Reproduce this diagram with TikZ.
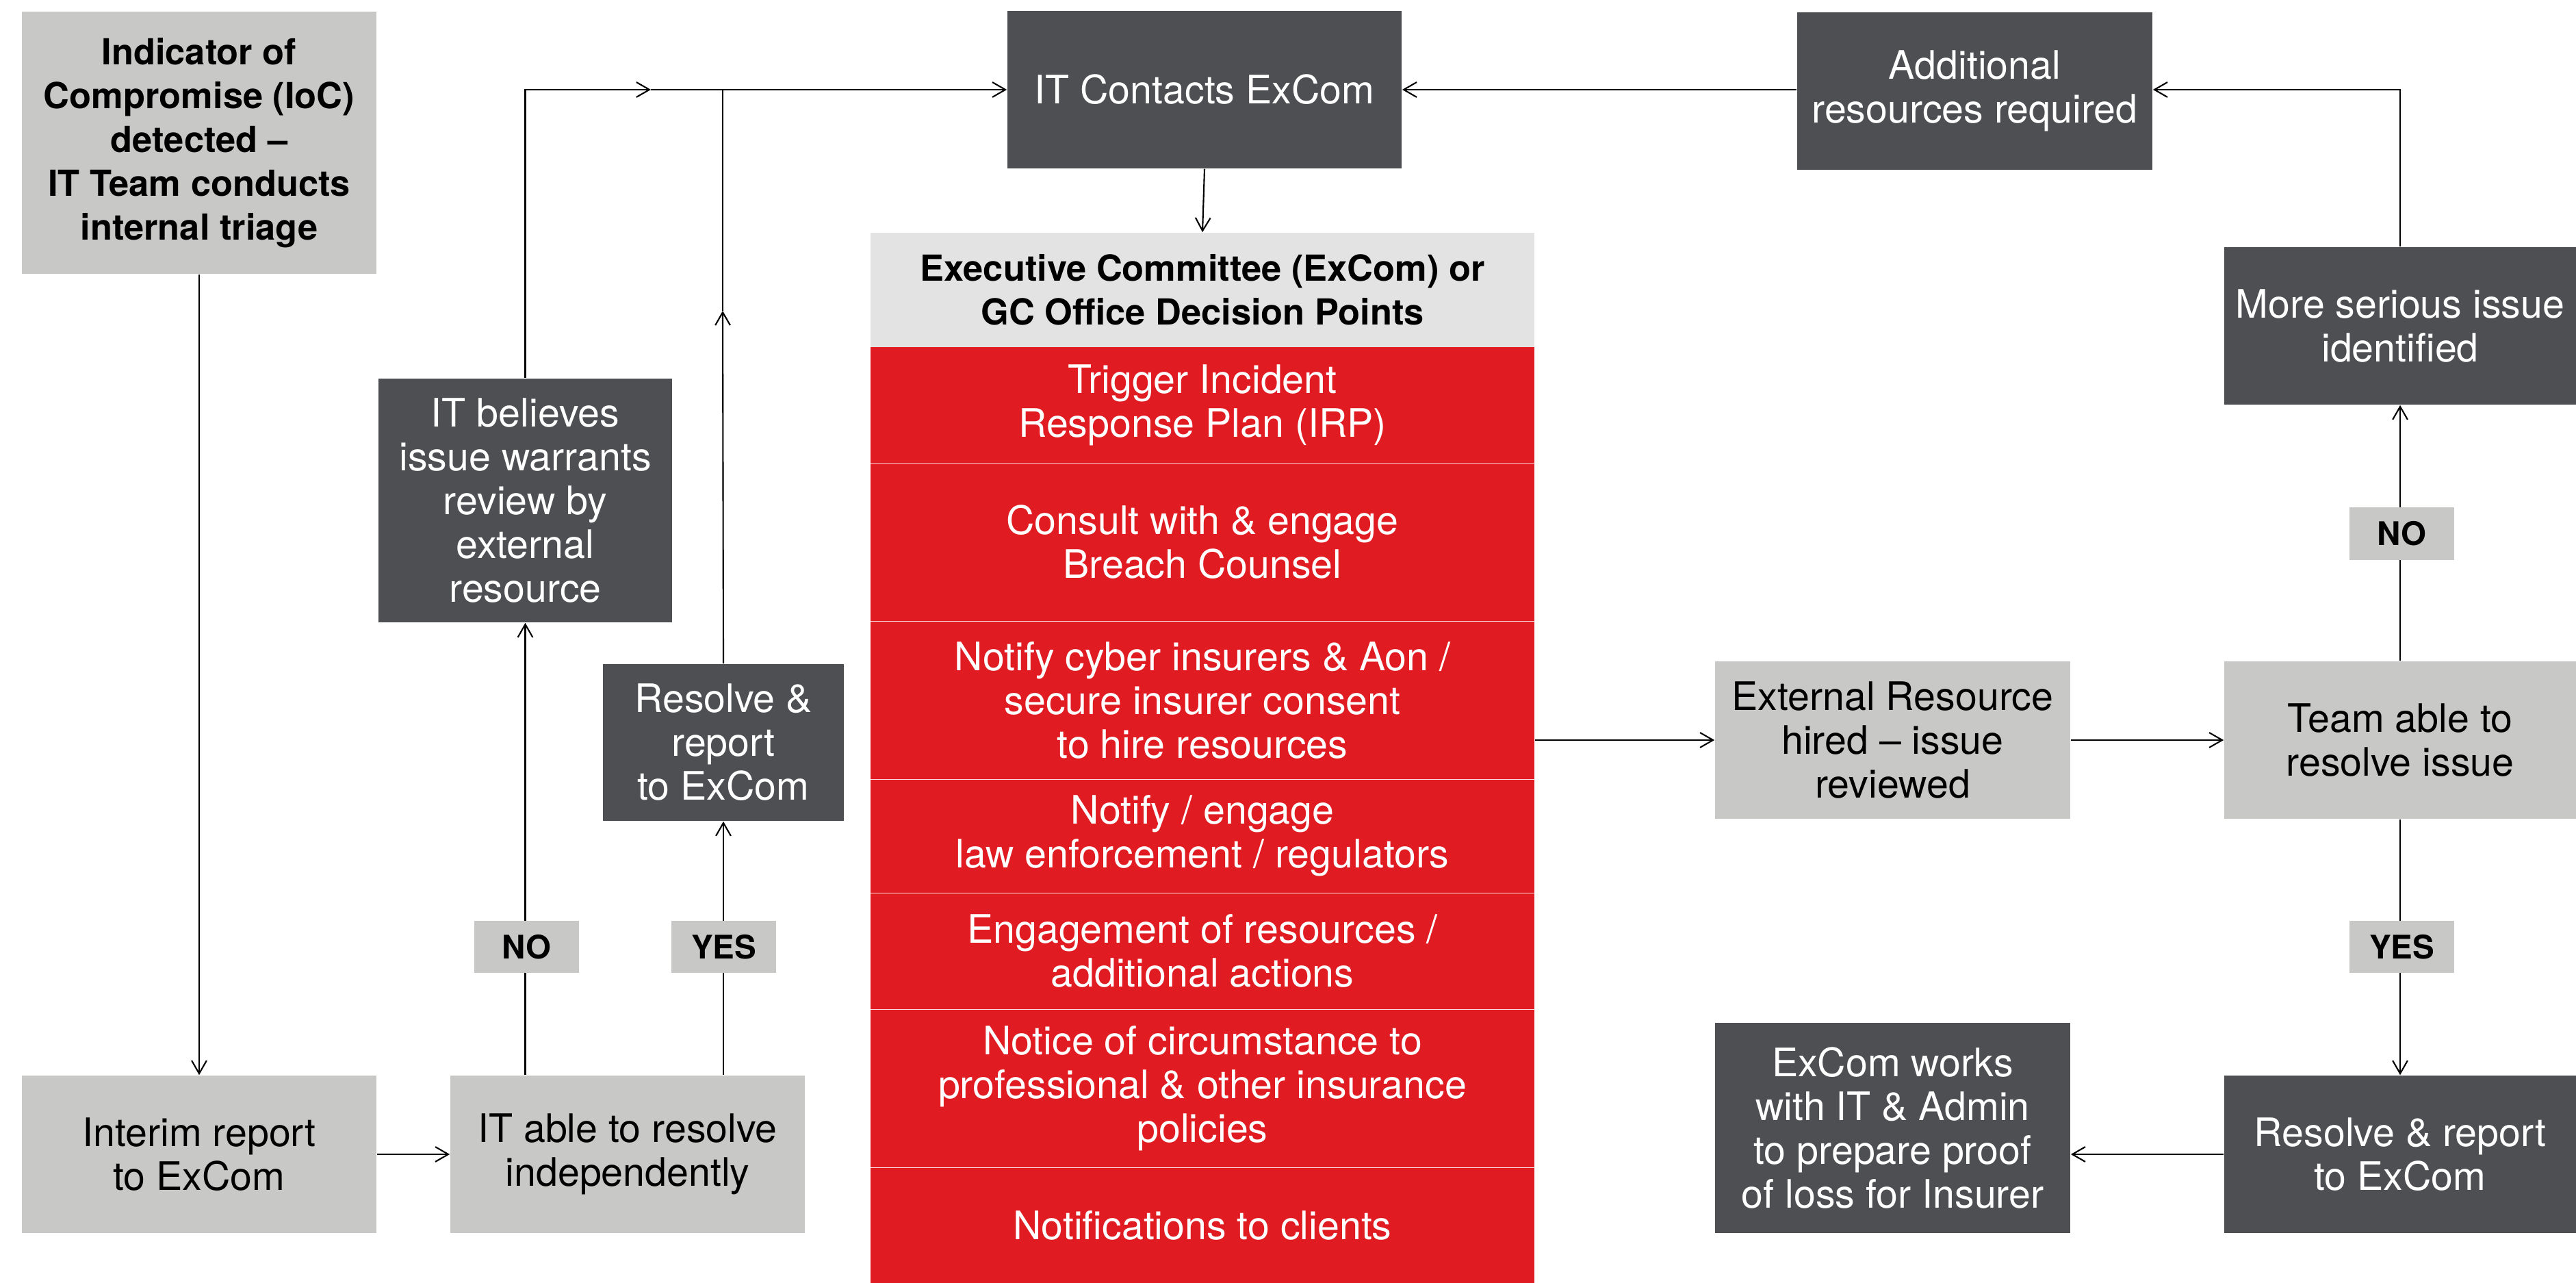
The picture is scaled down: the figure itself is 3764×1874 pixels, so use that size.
\documentclass[tikz,border=0pt]{standalone}
\usepackage{fontspec}
\setmainfont{TeX Gyre Heros}
\usetikzlibrary{arrows.meta}
\definecolor{lgray}{HTML}{C8C8C7}
\definecolor{dgray}{HTML}{4E4F53}
\definecolor{aonred}{HTML}{E01B22}
\definecolor{hgray}{HTML}{E3E3E3}
\begin{document}
\begin{tikzpicture}[x=0.01cm,y=-0.01cm,
  box/.style={rectangle, inner sep=0pt, align=center, font=\fontsize{16.3}{18.2}\selectfont},
  lbox/.style={box, fill=lgray, text=black},
  dbox/.style={box, fill=dgray, text=white},
  rbox/.style={box, fill=aonred, text=white, minimum width=9.70cm},
  boldtxt/.style={font=\fontsize{14.9}{18.2}\selectfont\bfseries},
  tag/.style={rectangle, inner sep=0pt, fill=lgray, text=black, minimum width=1.53cm, minimum height=0.76cm, font=\fontsize{13.5}{16}\selectfont\bfseries},
  conn/.style={line width=0.6pt, draw=black},
  arr/.style={conn, -{Straight Barb[length=5.4pt,width=6.2pt]}},
  sep/.style={draw=white, line width=0.4pt, opacity=0.85},
]
\useasboundingbox (0,0) rectangle (3764,1874);

% left column
\node[lbox, boldtxt, minimum width=5.18cm, minimum height=3.83cm] (ioc) at (291,208.5)
  {Indicator of\\Compromise (IoC)\\detected –\\IT Team conducts\\internal triage};
\node[lbox, minimum width=5.18cm, minimum height=2.30cm] (interim) at (291,1686)
  {Interim report\\to ExCom};
\node[lbox, minimum width=5.18cm, minimum height=2.30cm] (itable) at (917,1686)
  {IT able to resolve\\independently};
\node[dbox, minimum width=4.29cm, minimum height=3.56cm] (itbel) at (767.5,731)
  {IT believes\\issue warrants\\review by\\external\\resource};
\node[dbox, minimum width=3.52cm, minimum height=2.29cm] (resL) at (1057,1084.5)
  {Resolve \&\\report\\to ExCom};

% centre column
\node[dbox, minimum width=5.76cm, minimum height=2.30cm] (itc) at (1760,131)
  {IT Contacts ExCom};
\node[box, fill=hgray, boldtxt, minimum width=9.70cm, minimum height=1.67cm] (hdr) at (1757,423.5)
  {Executive Committee (ExCom) or\\GC Office Decision Points};
\node[rbox, minimum height=1.70cm] (r1) at (1757,592) {Trigger Incident\\Response Plan (IRP)};
\node[rbox, minimum height=2.30cm] (r2) at (1757,792) {Consult with \& engage\\Breach Counsel};
\node[rbox, minimum height=2.31cm] (r3) at (1757,1022.5) {Notify cyber insurers \& Aon /\\secure insurer consent\\to hire resources};
\node[rbox, minimum height=1.66cm] (r4) at (1757,1221) {Notify / engage\\law enforcement / regulators};
\node[rbox, minimum height=1.70cm] (r5) at (1757,1389) {Engagement of resources /\\additional actions};
\node[rbox, minimum height=2.31cm] (r6) at (1757,1589.5) {Notice of circumstance to\\professional \& other insurance\\policies};
\node[rbox, minimum height=1.69cm] (r7) at (1757,1789.5) {Notifications to clients};
\foreach \r in {r1,r2,r3,r4,r5,r6}{
  \draw[sep] (\r.south west) -- (\r.south east);
}

% right columns
\node[dbox, minimum width=5.19cm, minimum height=2.30cm] (addl) at (2885.5,133)
  {Additional\\resources required};
\node[dbox, minimum width=5.14cm, minimum height=2.30cm] (more) at (3507,476)
  {More serious issue\\identified};
\node[lbox, minimum width=5.19cm, minimum height=2.30cm] (ext) at (2765.5,1081)
  {External Resource\\hired – issue\\reviewed};
\node[lbox, minimum width=5.14cm, minimum height=2.30cm] (team) at (3507,1081)
  {Team able to\\resolve issue};
\node[dbox, minimum width=5.14cm, minimum height=2.30cm] (resR) at (3507,1686)
  {Resolve \& report\\to ExCom};
\node[dbox, minimum width=5.19cm, minimum height=3.07cm] (excw) at (2765.5,1647.5)
  {ExCom works\\with IT \& Admin\\to prepare proof\\of loss for Insurer};

% connectors
\coordinate (m1) at (951,131);
\coordinate (j1) at (1056,131);
\coordinate (m2) at (1056,454);
\draw[arr] (ioc.south) -- (interim.north);
\draw[arr] (interim.east) -- (itable.west);
\draw[arr] (itbel.south |- itable.north) -- (itbel.south);
\draw[arr] (resL.south |- itable.north) -- (resL.south);
\draw[arr] (itbel.north) |- (m1);
\draw[arr] (m1) -- (itc.west);
\draw[arr] (resL.north) -- (m2);
\draw[conn] (m2) -- (j1);
\draw[arr] (itc.south) -- (hdr.north);
\draw[arr] (addl.west |- itc.east) -- (itc.east);
\draw[arr] (more.north) |- (addl.east |- itc.east);
\draw[arr] (team.north) -- (more.south);
\draw[arr] (r3.east |- ext.west) -- (ext.west);
\draw[arr] (ext.east) -- (team.west);
\draw[arr] (team.south) -- (resR.north);
\draw[arr] (resR.west) -- (excw.east |- resR.west);

% decision tags
\node[tag] (noL) at (769.5,1383) {NO};
\node[tag] (yesL) at (1057.5,1383) {YES};
\node[tag] (noR) at (3509.5,779.5) {NO};
\node[tag] (yesR) at (3509.5,1383) {YES};
\end{tikzpicture}
\end{document}
